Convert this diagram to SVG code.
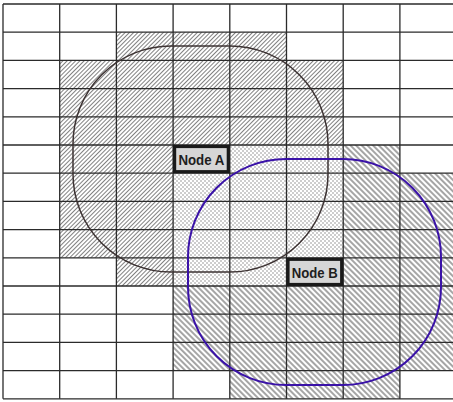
<svg xmlns="http://www.w3.org/2000/svg" width="453" height="402" viewBox="0 0 453 402">
<style>
.grid{stroke:#2b2b2b;stroke-width:1.3;fill:none}
.lbl-box{fill:#d6d6d6;stroke:#1a1a1a;stroke-width:3.2}
.lbl{font-family:"Liberation Sans",Arial,sans-serif;font-weight:bold;font-size:15.5px;fill:#1e1e1e;text-anchor:middle}
</style>
<defs>
<pattern id="hatchA" patternUnits="userSpaceOnUse" width="3" height="3" patternTransform="rotate(45)">
<rect width="3" height="3" fill="#fff"/>
<line x1="0.5" y1="0" x2="0.5" y2="3" stroke="#4a4a4a" stroke-width="0.7"/>
</pattern>
<pattern id="hatchB" patternUnits="userSpaceOnUse" width="4" height="4" patternTransform="rotate(-45)">
<rect width="4" height="4" fill="#fff"/>
<line x1="1" y1="0" x2="1" y2="4" stroke="#6a6a6a" stroke-width="1.2"/>
</pattern>
<pattern id="cross" patternUnits="userSpaceOnUse" width="4" height="4">
<rect width="4" height="4" fill="#fff"/>
<rect x="0" y="0" width="2" height="2" fill="#cdcdcd"/>
<rect x="2" y="2" width="2" height="2" fill="#cdcdcd"/>
</pattern>
</defs>
<rect width="453" height="402" fill="#fff"/>
<g id="regions">
<path d="M116.4,32.2 H286.5 V60.4 H343.2 V286 H116.4 V257.8 H59.7 V60.4 H116.4 Z" fill="url(#hatchA)"/>
<path d="M173.1,145 H399.9 V173.2 H456.6 V370.6 H399.9 V398.8 H229.8 V370.6 H173.1 Z" fill="url(#hatchB)"/>
<rect x="173.1" y="145" width="170.1" height="141" fill="url(#cross)"/>
</g>
<g id="grid" class="grid">
<path d="M3,4 V398.8 M59.7,4 V398.8 M116.4,4 V398.8 M173.1,4 V398.8 M229.8,4 V398.8 M286.5,4 V398.8 M343.2,4 V398.8 M399.9,4 V398.8"/>
<path d="M3,4 H453 M3,32.2 H453 M3,60.4 H453 M3,88.6 H453 M3,116.8 H453 M3,145 H453 M3,173.2 H453 M3,201.4 H453 M3,229.6 H453 M3,257.8 H453 M3,286 H453 M3,314.2 H453 M3,342.4 H453 M3,370.6 H453 M3,398.8 H453"/>
</g>
<g id="connectors"></g>
<g id="nodeA">
<rect x="73" y="46" width="255" height="226" rx="98" ry="98" fill="none" stroke="#3d3333" stroke-width="1.5"/>
<rect class="lbl-box" x="174.6" y="146.5" width="53.7" height="25.2"/>
<text class="lbl" x="201.4" y="165" textLength="46" lengthAdjust="spacingAndGlyphs">Node A</text>
</g>
<g id="nodeB">
<rect x="188" y="159" width="253" height="226" rx="98" ry="98" fill="none" stroke="#3a12a8" stroke-width="2"/>
<rect class="lbl-box" x="288" y="259.3" width="53.7" height="25.2"/>
<text class="lbl" x="314.8" y="278" textLength="46" lengthAdjust="spacingAndGlyphs">Node B</text>
</g>
</svg>
